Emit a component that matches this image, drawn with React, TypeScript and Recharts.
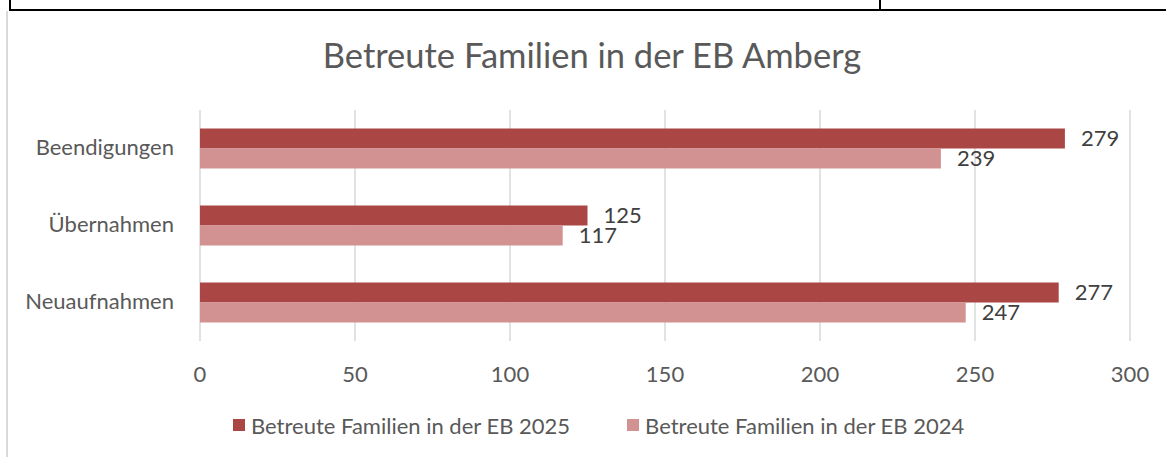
import React from "react";
import { BarChart, Bar, XAxis, YAxis, CartesianGrid, LabelList } from "recharts";

const categories = ["Beendigungen", "Übernahmen", "Neuaufnahmen"];
const series2025 = [279, 125, 277];
const series2024 = [239, 117, 247];
const xTicks = [0, 50, 100, 150, 200, 250, 300];
const seriesNames = ["Betreute Familien in der EB 2025", "Betreute Familien in der EB 2024"];
const colors = ["#aa4644", "#d39292"];

const data = categories.map((c, i) => ({ name: c, v2025: series2025[i], v2024: series2024[i] }));

const FONT = "Lato, 'Open Sans', sans-serif";

const YTick = (props: any) => {
  const { x, y, payload } = props;
  return (
    <text x={x - 24} y={y - 2} textAnchor="end" dominantBaseline="central" fill="#595959" fontSize={22} fontFamily={FONT}>
      {payload.value}
    </text>
  );
};

const XTick = (props: any) => {
  const { x, y, payload } = props;
  return (
    <text x={x} y={y + 30} textAnchor="middle" dominantBaseline="central" fill="#595959" fontSize={22} fontFamily={FONT}>
      {payload.value}
    </text>
  );
};

export default function App() {
  return (
    <div style={{ position: "absolute", left: 0, top: 0, width: 1166, height: 457, background: "#fff", overflow: "hidden", fontFamily: FONT }}>
      {/* table fragment above the chart */}
      <div style={{ position: "absolute", left: 9, top: 9, width: 1157, height: 2, background: "#000" }} />
      <div style={{ position: "absolute", left: 9, top: 0, width: 2, height: 11, background: "#000" }} />
      <div style={{ position: "absolute", left: 879, top: 0, width: 2, height: 11, background: "#000" }} />
      {/* chart border */}
      <div style={{ position: "absolute", left: 6, top: 11, width: 2, height: 446, background: "#d9d9d9" }} />
      {/* title */}
      <div style={{ position: "absolute", left: 0, top: 34, width: 1184, textAlign: "center", fontSize: 34.5, color: "#595959", lineHeight: "42px" }}>
        Betreute Familien in der EB Amberg
      </div>
      <div style={{ position: "absolute", left: 0, top: 0 }}>
        <BarChart
          width={1166}
          height={457}
          data={data}
          layout="vertical"
          margin={{ top: 110, right: 36, bottom: 76, left: 0 }}
          barCategoryGap="24%"
          barGap={0}
        >
          <CartesianGrid horizontal={false} stroke="#d9d9d9" strokeWidth={1.5} />
          <XAxis
            type="number"
            domain={[0, 300]}
            ticks={xTicks}
            axisLine={false}
            tickLine={false}
            tickSize={0}
            height={40}
            tick={<XTick />}
            interval={0}
          />
          <YAxis
            type="category"
            dataKey="name"
            width={200}
            axisLine={false}
            tickLine={false}
            tickSize={0}
            tick={<YTick />}
          />
          <Bar dataKey="v2025" name={seriesNames[0]} fill={colors[0]} isAnimationActive={false}>
            <LabelList dataKey="v2025" position="right" offset={16} fill="#404040" fontSize={22} fontFamily={FONT} />
          </Bar>
          <Bar dataKey="v2024" name={seriesNames[1]} fill={colors[1]} isAnimationActive={false}>
            <LabelList dataKey="v2024" position="right" offset={16} fill="#404040" fontSize={22} fontFamily={FONT} />
          </Bar>
        </BarChart>
      </div>
      {/* legend */}
      <div style={{ position: "absolute", left: 233, top: 411, height: 28, display: "flex", alignItems: "center", fontSize: 22, color: "#595959" }}>
        {seriesNames.map((n, i) => (
          <div key={n} style={{ display: "flex", alignItems: "center", marginRight: i === 0 ? 57 : 0 }}>
            <div style={{ width: 12, height: 12, background: colors[i], marginRight: 6 }} />
            <span>{n}</span>
          </div>
        ))}
      </div>
    </div>
  );
}
